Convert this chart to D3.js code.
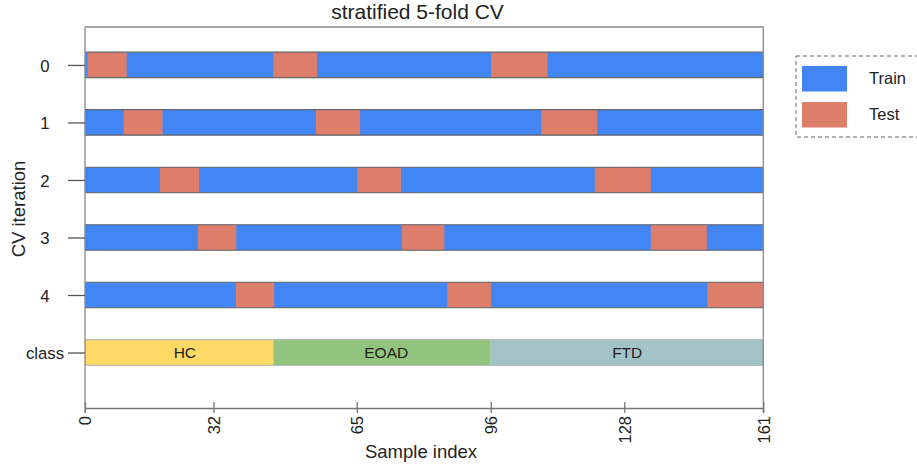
<!DOCTYPE html>
<html>
<head>
<meta charset="utf-8">
<script src="https://cdn.jsdelivr.net/npm/d3@7"></script>
<style>
  body { margin: 0; background: #fff; }
  text { font-family: "Liberation Sans", Arial, sans-serif; fill: #222; }
</style>
</head>
<body>
<div id="chart"></div>
<script>
// data
var folds = [0, 1, 2, 3, 4];
var nSamples = 161;
// test index ranges per fold, [start, end]
var testRanges = [
  [[0.6, 9.9], [44.7, 55.1], [96.4, 109.8]],
  [[9.2, 18.4], [54.8, 65.3], [108.3, 121.6]],
  [[17.8, 27.1], [64.6, 75.0], [121.0, 134.3]],
  [[26.8, 35.9], [75.2, 85.3], [134.3, 147.6]],
  [[35.8, 44.9], [86.0, 96.4], [147.7, 161]]
];
var classNames = ["HC", "EOAD", "FTD"];
var classStart = [0, 44.7, 96.3];
var classEnd = [44.7, 96.3, 161];
var classLabelAt = [23.7, 71.5, 128.7];
var xTickValues = [0, 30.5, 64.5, 96.3, 128, 161];
var xTickLabels = ["0", "32", "65", "96", "128", "161"];
var legendLabels = ["Train", "Test"];

var width = 917, height = 466;
var trainColor = "#4285f4", testColor = "#dd7e6b";
var classColors = ["#ffd966", "#93c47d", "#a2c4c9"];

var svg = d3.select("#chart").append("svg")
    .attr("width", width)
    .attr("height", height);

var x = d3.scaleLinear().domain([0, nSamples]).range([85, 763.3]);
var y = d3.scaleLinear().domain([-0.66, 5.965]).range([27, 408]);
var barH = 25.5;

var rowTicks = folds.map(String).concat(["class"]);

// train bars (full width), test segments on top
var rows = svg.selectAll("g.fold")
    .data(folds)
    .enter()
    .append("g")
    .attr("class", "fold");

rows.append("rect")
    .attr("x", x(0))
    .attr("y", d => y(d) - barH / 2)
    .attr("width", x(nSamples) - x(0))
    .attr("height", barH)
    .attr("fill", trainColor);

rows.selectAll("rect.test")
    .data(d => testRanges[d].map(r => ({fold: d, r: r})))
    .enter()
    .append("rect")
    .attr("class", "test")
    .attr("x", d => x(d.r[0]))
    .attr("y", d => y(d.fold) - barH / 2)
    .attr("width", d => x(d.r[1]) - x(d.r[0]))
    .attr("height", barH)
    .attr("fill", testColor);

// outline lines top/bottom of each row
rows.append("line")
    .attr("x1", x(0)).attr("x2", x(nSamples))
    .attr("y1", d => y(d) - barH / 2).attr("y2", d => y(d) - barH / 2)
    .attr("stroke", "#666").attr("stroke-width", 1.2);
rows.append("line")
    .attr("x1", x(0)).attr("x2", x(nSamples))
    .attr("y1", d => y(d) + barH / 2).attr("y2", d => y(d) + barH / 2)
    .attr("stroke", "#666").attr("stroke-width", 1.2);

// class row
var classRow = 5;
svg.selectAll("rect.cls")
    .data(classNames)
    .enter()
    .append("rect")
    .attr("class", "cls")
    .attr("x", (d, i) => x(classStart[i]))
    .attr("y", y(classRow) - barH / 2)
    .attr("width", (d, i) => x(classEnd[i]) - x(classStart[i]))
    .attr("height", barH)
    .attr("fill", (d, i) => classColors[i]);

[-1, 1].forEach(function(s) {
  svg.append("line")
    .attr("x1", x(0)).attr("x2", x(nSamples))
    .attr("y1", y(classRow) + s * barH / 2).attr("y2", y(classRow) + s * barH / 2)
    .attr("stroke", "#aaa").attr("stroke-width", 1);
});

svg.selectAll("text.cls")
    .data(classNames)
    .enter()
    .append("text")
    .attr("class", "cls")
    .attr("x", (d, i) => x(classLabelAt[i]))
    .attr("y", y(classRow))
    .attr("dy", "0.36em")
    .attr("text-anchor", "middle")
    .style("font-size", "15.5px")
    .text(d => d);

// plot frame
var frame = svg.append("g").attr("stroke", "#888").attr("stroke-width", 1.3);
frame.append("line").attr("x1", x(0)).attr("x2", x(nSamples)).attr("y1", 27).attr("y2", 27);
frame.append("line").attr("x1", x(0)).attr("x2", x(0)).attr("y1", 27).attr("y2", 413);
frame.append("line").attr("x1", x(nSamples)).attr("x2", x(nSamples)).attr("y1", 27).attr("y2", 413);

// x axis
var xAxis = d3.axisBottom(x)
    .tickValues(xTickValues)
    .tickFormat((d, i) => xTickLabels[i])
    .tickSizeInner(5)
    .tickSizeOuter(0);

var gx = svg.append("g")
    .attr("transform", "translate(0,408)")
    .call(xAxis);
gx.select(".domain").attr("stroke", "#777").attr("stroke-width", 1.3);
gx.selectAll(".tick line").attr("stroke", "#777").attr("stroke-width", 1.3).attr("y1", -6);
gx.selectAll(".tick text")
    .attr("transform", "rotate(-90)")
    .attr("text-anchor", "end")
    .attr("x", -8)
    .attr("y", 0)
    .attr("dy", "0.36em")
    .style("font-size", "16.5px")
    .style("fill", "#222");

// y axis
var yAxis = d3.axisLeft(y)
    .tickValues(d3.range(rowTicks.length))
    .tickFormat((d, i) => rowTicks[i])
    .tickSizeInner(17)
    .tickSizeOuter(0);

var gy = svg.append("g")
    .attr("transform", "translate(" + x(0) + ",0)")
    .call(yAxis);
gy.select(".domain").remove();
gy.selectAll(".tick line").attr("stroke", "#555").attr("stroke-width", 1.3);
gy.selectAll(".tick text")
    .attr("x", 45 - x(0))
    .attr("text-anchor", "middle")
    .attr("dy", "0.36em")
    .style("font-size", "16.8px")
    .style("fill", "#222");

// titles
svg.append("text")
    .attr("x", 417.5).attr("y", 19)
    .attr("text-anchor", "middle")
    .style("font-size", "21px")
    .text("stratified 5-fold CV");

svg.append("text")
    .attr("x", 421).attr("y", 458)
    .attr("text-anchor", "middle")
    .style("font-size", "18.5px")
    .text("Sample index");

svg.append("text")
    .attr("transform", "translate(25,209) rotate(-90)")
    .attr("text-anchor", "middle")
    .style("font-size", "18.5px")
    .text("CV iteration");

// legend
var legend = svg.append("g");
legend.append("rect")
    .attr("x", 796).attr("y", 56)
    .attr("width", 130).attr("height", 81)
    .attr("fill", "none")
    .attr("stroke", "#666")
    .attr("stroke-dasharray", "4,3");

var items = legend.selectAll("g.item")
    .data(legendLabels)
    .enter()
    .append("g")
    .attr("class", "item")
    .attr("transform", (d, i) => "translate(0," + (66 + i * 36) + ")");

items.append("rect")
    .attr("x", 802).attr("y", 0)
    .attr("width", 45).attr("height", 25.5)
    .attr("fill", (d, i) => i === 0 ? trainColor : testColor);

items.append("text")
    .attr("x", 869).attr("y", 12.5)
    .attr("dy", "0.36em")
    .style("font-size", "16.5px")
    .text(d => d);
</script>
</body>
</html>
